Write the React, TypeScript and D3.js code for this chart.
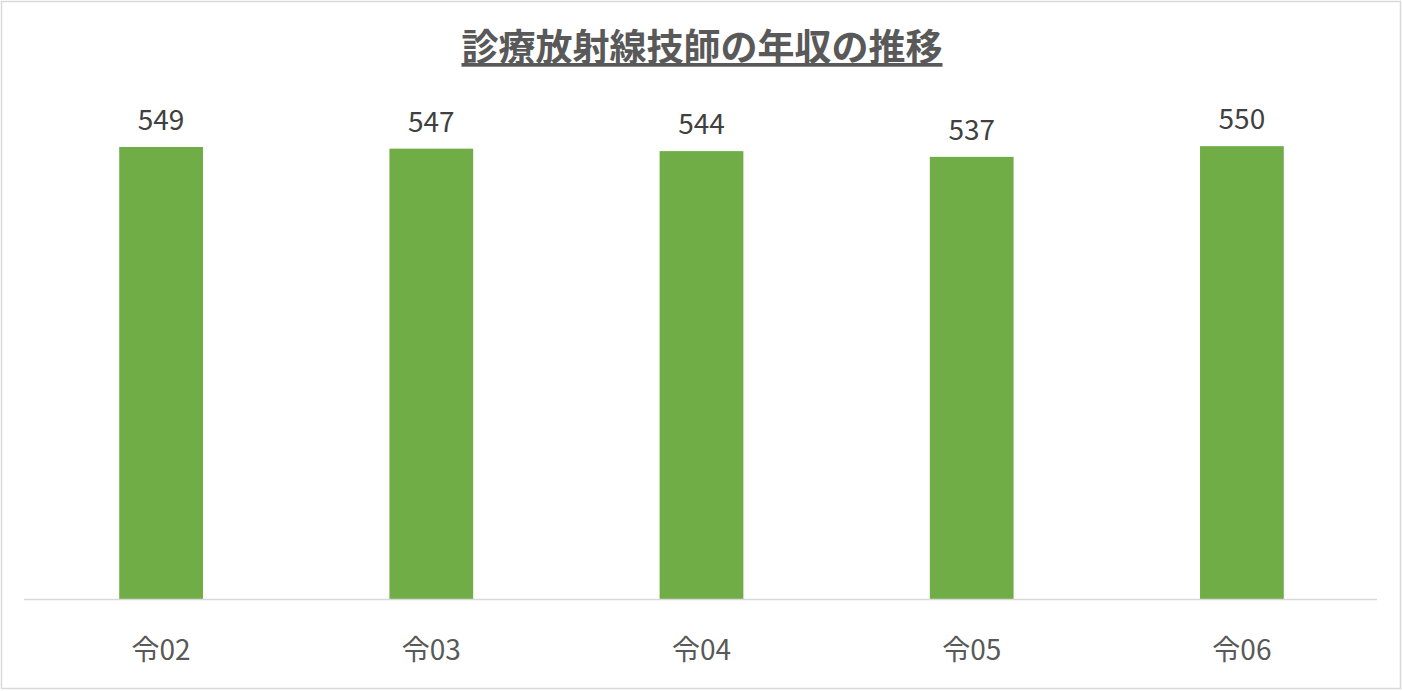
import { useMemo } from "react";
import * as d3 from "d3";

// ---- data ----
const categories = ["令02", "令03", "令04", "令05", "令06"];
const values = [549, 547, 544, 537, 550];
const title = "診療放射線技師の年収の推移";

const W = 1402;
const H = 691;
const margin = { top: 105, right: 25, bottom: 92, left: 26 };
const FONT = "'Noto Sans CJK JP', 'Noto Sans', sans-serif";
const GREY = "#595959";

export default function App() {
  const x = useMemo(
    () =>
      d3
        .scaleBand<string>()
        .domain(categories)
        .range([margin.left, W - margin.right])
        .paddingInner(0.69)
        .paddingOuter(0.345),
    []
  );
  const y = useMemo(
    () => d3.scaleLinear().domain([0, 600]).range([H - margin.bottom, margin.top]),
    []
  );
  const baseY = y(0);

  return (
    <>
      <style>{`body{margin:0}`}</style>
      <svg width={W} height={H} style={{ display: "block", fontFamily: FONT }}>
        <rect x={0} y={0} width={W} height={H} fill="#fff" />
        <rect
          x={1.5}
          y={1.5}
          width={W - 3}
          height={H - 4}
          fill="none"
          stroke="#d9d9d9"
          strokeWidth={1.5}
        />

        {/* title */}
        <text
          x={W / 2 + 1}
          y={61}
          textAnchor="middle"
          fontSize={37}
          fontWeight={700}
          fill={GREY}
          textDecoration="underline"
        >
          {title}
        </text>

        {/* bars */}
        {values.map((v, i) => (
          <rect
            key={categories[i]}
            x={x(categories[i])}
            y={y(v)}
            width={x.bandwidth()}
            height={baseY - y(v)}
            fill="#70ad47"
          />
        ))}

        {/* value labels */}
        {values.map((v, i) => (
          <text
            key={`l${i}`}
            x={(x(categories[i]) ?? 0) + x.bandwidth() / 2}
            y={y(v) - 17}
            textAnchor="middle"
            fontSize={28}
            fill="#404040"
          >
            {v}
          </text>
        ))}

        {/* baseline */}
        <line
          x1={margin.left - 2}
          x2={W - margin.right}
          y1={baseY + 0.5}
          y2={baseY + 0.5}
          stroke="#d9d9d9"
          strokeWidth={1.5}
        />

        {/* category labels */}
        {categories.map((c) => (
          <text
            key={c}
            x={(x(c) ?? 0) + x.bandwidth() / 2}
            y={660}
            textAnchor="middle"
            fontSize={28}
            fill={GREY}
          >
            {c}
          </text>
        ))}
      </svg>
    </>
  );
}
